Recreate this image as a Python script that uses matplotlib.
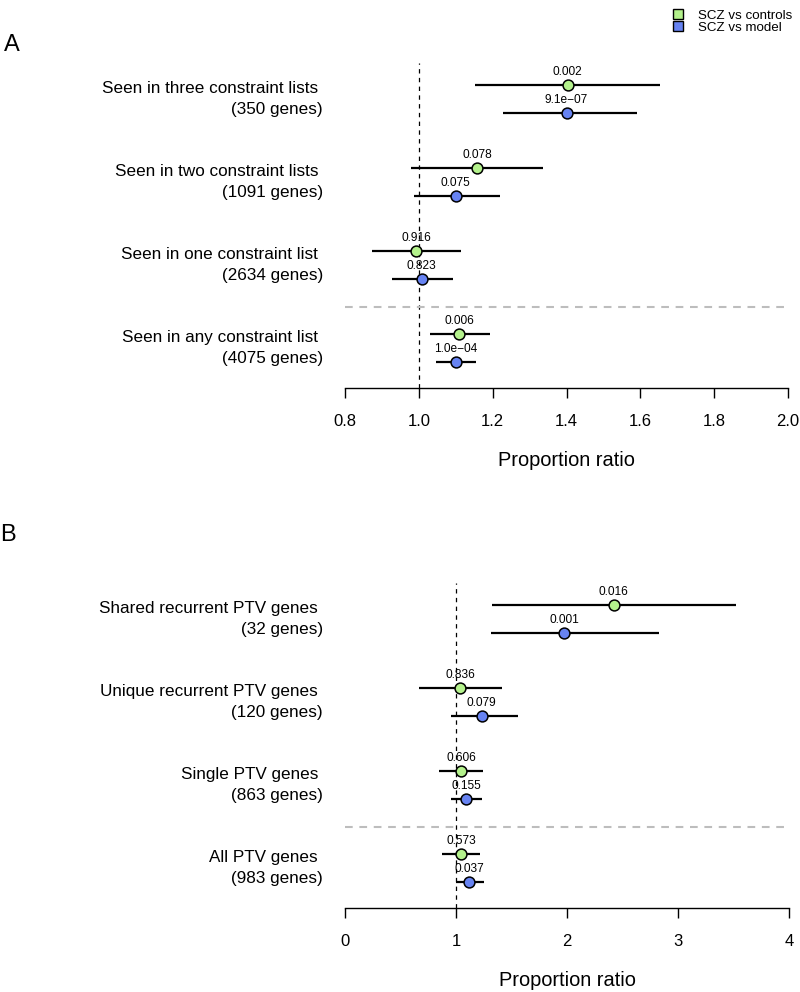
import matplotlib.pyplot as plt
from matplotlib.lines import Line2D
import matplotlib.transforms as mtransforms

plt.rcParams['font.family'] = ['Liberation Sans', 'DejaVu Sans']

green = '#b4f28c'
blue = '#6783f2'

# panel A - constraint lists
labels_a = ["Seen in three constraint lists \n(350 genes)",
            "Seen in two constraint lists \n(1091 genes)",
            "Seen in one constraint list \n(2634 genes)",
            "Seen in any constraint list \n(4075 genes)"]
ctrl_a = [1.403, 1.158, 0.993, 1.109]
ctrl_a_lo = [1.151, 0.980, 0.872, 1.029]
ctrl_a_hi = [1.654, 1.337, 1.114, 1.192]
ctrl_a_p = ["0.002", "0.078", "0.916", "0.006"]
model_a = [1.400, 1.100, 1.008, 1.101]
model_a_lo = [1.227, 0.987, 0.928, 1.047]
model_a_hi = [1.590, 1.221, 1.092, 1.156]
model_a_p = ["9.1e\u221207", "0.075", "0.823", "1.0e\u221204"]
ticks_a = [0.8, 1.0, 1.2, 1.4, 1.6, 1.8, 2.0]
ticklabels_a = ["0.8", "1.0", "1.2", "1.4", "1.6", "1.8", "2.0"]

# panel B - PTV genes
labels_b = ["Shared recurrent PTV genes \n(32 genes)",
            "Unique recurrent PTV genes \n(120 genes)",
            "Single PTV genes \n(863 genes)",
            "All PTV genes \n(983 genes)"]
ctrl_b = [2.42, 1.037, 1.049, 1.046]
ctrl_b_lo = [1.32, 0.664, 0.85, 0.872]
ctrl_b_hi = [3.52, 1.41, 1.247, 1.22]
ctrl_b_p = ["0.016", "0.836", "0.606", "0.573"]
model_b = [1.975, 1.232, 1.091, 1.121]
model_b_lo = [1.317, 0.953, 0.956, 0.998]
model_b_hi = [2.83, 1.56, 1.238, 1.25]
model_b_p = ["0.001", "0.079", "0.155", "0.037"]
ticks_b = [0, 1, 2, 3, 4]
ticklabels_b = ["0", "1", "2", "3", "4"]

fig = plt.figure(figsize=(8, 9.92), dpi=100)
ax_a = fig.add_axes([345/800, 1 - 388/992, 443/800, 325/992])
ax_b = fig.add_axes([345/800, 1 - 908/992, 444/800, 325/992])


def forest(ax, labels, c, clo, chi, cp, m, mlo, mhi, mp, ticks, ticklabels):
    ypos = [4, 3, 2, 1]
    off = 0.167
    ax.axvline(1, color='black', lw=0.9, ls=(0, (3.5, 3.5)), zorder=1)
    ax.axhline(1.5, color='#bdbdbd', lw=1.5, ls=(0, (3.7, 3.2)), zorder=1)
    trans = mtransforms.blended_transform_factory(ax.transAxes, ax.transData)
    for i, y in enumerate(ypos):
        yc = y + off
        ym = y - off
        ax.plot([clo[i], chi[i]], [yc, yc], color='black', lw=1.6, zorder=2,
                solid_capstyle='butt')
        ax.plot([mlo[i], mhi[i]], [ym, ym], color='black', lw=1.6, zorder=2,
                solid_capstyle='butt')
        ax.plot(c[i], yc, 'o', ms=7.8, mfc=green, mec='black', mew=1.1, zorder=3)
        ax.plot(m[i], ym, 'o', ms=7.8, mfc=blue, mec='black', mew=1.1, zorder=3)
        ax.annotate(cp[i], (c[i], yc), xytext=(0, 9.6), textcoords='offset points',
                    ha='center', va='center', fontsize=8.6)
        ax.annotate(mp[i], (m[i], ym), xytext=(0, 9.6), textcoords='offset points',
                    ha='center', va='center', fontsize=8.6)
        ax.text(-0.05, y, labels[i], transform=trans, ha='right', va='center',
                fontsize=12.3, multialignment='right', linespacing=1.45)
    ax.set_xlim(ticks[0], ticks[-1])
    ax.set_ylim(0.518, 4.434)
    ax.set_xticks(ticks)
    ax.set_xticklabels(ticklabels)
    ax.set_yticks([])
    for s in ['top', 'right', 'left']:
        ax.spines[s].set_visible(False)
    ax.spines['bottom'].set_linewidth(1.0)
    ax.tick_params(axis='x', length=7.5, width=1.0, pad=11, labelsize=12)
    ax.set_xlabel("Proportion ratio", fontsize=14.4, labelpad=16)
    ax.patch.set_alpha(0)


forest(ax_a, labels_a, ctrl_a, ctrl_a_lo, ctrl_a_hi, ctrl_a_p,
       model_a, model_a_lo, model_a_hi, model_a_p, ticks_a, ticklabels_a)
forest(ax_b, labels_b, ctrl_b, ctrl_b_lo, ctrl_b_hi, ctrl_b_p,
       model_b, model_b_lo, model_b_hi, model_b_p, ticks_b, ticklabels_b)

fig.text(12/800, 1 - 45/992, "A", fontsize=17, ha='center', va='center')
fig.text(8/800, 1 - 535/992, "B", fontsize=17, ha='center', va='center')

handles = [Line2D([], [], marker='s', ls='', ms=7, mfc=green, mec='black', mew=1.0),
           Line2D([], [], marker='s', ls='', ms=7, mfc=blue, mec='black', mew=1.0)]
fig.legend(handles, ["SCZ vs controls", "SCZ vs model"], loc='upper right',
           bbox_to_anchor=(1.0, 0.998), frameon=False, fontsize=9.6,
           labelspacing=0.0, handletextpad=1.0, borderpad=0.05, handlelength=1.0)

fig.savefig('out.png', dpi=100)
